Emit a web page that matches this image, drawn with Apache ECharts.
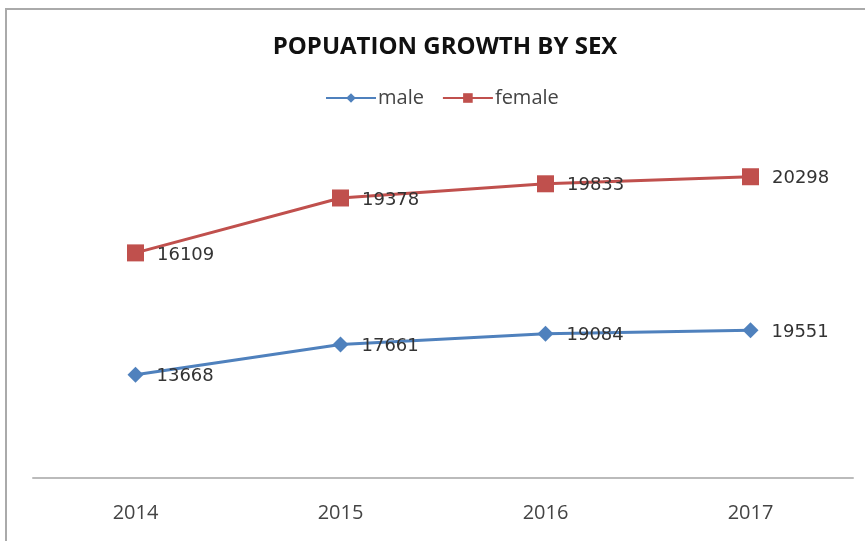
<!DOCTYPE html>
<html>
<head>
<meta charset="utf-8">
<script src="https://cdn.jsdelivr.net/npm/echarts@6/dist/echarts.min.js"></script>
<style>
  html, body { margin: 0; padding: 0; background: #fff; }
  #main { width: 865px; height: 541px; }
</style>
</head>
<body>
<div id="main"></div>
<script>
// data (stacked line, like the Excel original)
var years = ['2014', '2015', '2016', '2017'];
var male = [13668, 17661, 19084, 19551];
var female = [16109, 19378, 19833, 20298];

var chart = echarts.init(document.getElementById('main'));

var labelStyle = {
    show: true,
    position: 'right',
    distance: 13,
    offset: [0, 2],
    color: '#333',
    fontFamily: 'DejaVu Sans',
    fontSize: 18
};

var option = {
    backgroundColor: '#fff',
    animation: false,
    title: {
        text: 'POPUATION GROWTH BY SEX',
        left: 440,
        textAlign: 'center',
        top: 30,
        textStyle: {
            fontFamily: 'Open Sans',
            fontWeight: 'bold',
            fontSize: 24,
            color: '#111'
        }
    },
    legend: {
        top: 83,
        left: 320,
        itemWidth: 50,
        itemHeight: 12,
        itemGap: 18,
        textStyle: { fontFamily: 'Open Sans', fontSize: 20, color: '#444', padding: [0, 0, 0, -3] },
        data: ['male', 'female']
    },
    grid: { left: 33, right: 12, top: 100, bottom: 63 },
    xAxis: {
        type: 'category',
        data: years,
        axisLine: { lineStyle: { color: '#bbb', width: 2 } },
        axisTick: { show: false },
        axisLabel: { color: '#444', fontFamily: 'Open Sans', fontSize: 20, margin: 25 }
    },
    yAxis: {
        type: 'value',
        min: 0,
        max: 50000,
        show: false,
        splitLine: { show: false }
    },
    graphic: [{
        type: 'rect',
        shape: { x: 6, y: 9, width: 900, height: 600 },
        style: { fill: 'none', stroke: '#aaa', lineWidth: 2 },
        silent: true
    }],
    series: [
        {
            name: 'male',
            type: 'line',
            stack: 'pop',
            data: male,
            symbol: 'diamond',
            symbolSize: 16,
            color: '#4F81BD',
            lineStyle: { width: 3 },
            label: labelStyle
        },
        {
            name: 'female',
            type: 'line',
            stack: 'pop',
            data: female,
            symbol: 'rect',
            symbolSize: 17,
            color: '#C0504D',
            lineStyle: { width: 3 },
            label: labelStyle
        }
    ]
};

chart.setOption(option);
</script>
</body>
</html>
